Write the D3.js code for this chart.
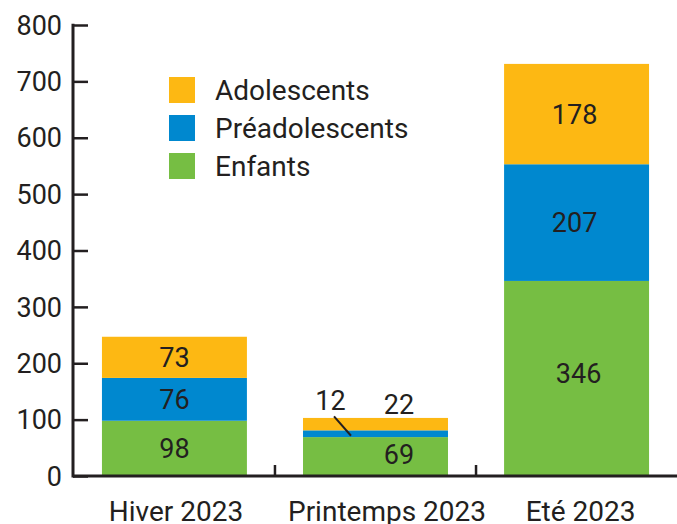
<!DOCTYPE html>
<html>
<head>
<meta charset="utf-8">
<script src="https://cdnjs.cloudflare.com/ajax/libs/d3/7.8.5/d3.min.js"></script>
<style>
  body { margin: 0; background: #fff; }
  text { font-family: Roboto, 'Noto Sans', sans-serif; fill: #231f20; }
</style>
</head>
<body>
<div id="chart"></div>
<script>
const seasons = ['Hiver 2023', 'Printemps 2023', 'Eté 2023'];
const groups = ['Enfants', 'Préadolescents', 'Adolescents'];
const enfants = [98, 69, 346];
const preados = [76, 12, 207];
const ados = [73, 22, 178];
const yTicks = [0, 100, 200, 300, 400, 500, 600, 700, 800];
const colors = ['#76be43', '#0088cf', '#fdb813'];

const W = 677, H = 524;
const svg = d3.select('#chart').append('svg').attr('width', W).attr('height', H);

const x = d3.scaleBand().domain(seasons).range([73, 678]).paddingInner(0.279).paddingOuter(0.144);
const y = d3.scaleLinear().domain([0, 800]).range([476, 25]);

const rows = seasons.map((s, i) => ({ season: s, Enfants: enfants[i], 'Préadolescents': preados[i], Adolescents: ados[i] }));
const stack = d3.stack().keys(groups)(rows);

// bars
stack.forEach((layer, k) => {
  svg.append('g').selectAll('rect')
    .data(layer)
    .join('rect')
    .attr('x', d => x(d.data.season))
    .attr('width', x.bandwidth())
    .attr('y', d => y(d[1]))
    .attr('height', d => y(d[0]) - y(d[1]))
    .attr('fill', colors[k]);
});

// value labels
stack.forEach((layer, k) => {
  layer.forEach((d, i) => {
    const v = d[1] - d[0];
    let cx = x(d.data.season) + x.bandwidth() / 2;
    let cy = y((d[0] + d[1]) / 2);
    if (d.data.season === 'Printemps 2023') {
      cx += 23.5;
      if (k === 0) cy -= 2;
      if (k === 1) { cx = x(d.data.season) + 27.5; cy = y(d[1]) - 30; }
      if (k === 2) { cy = y(d[1]) - 13.5; }
    }
    if (d.data.season === 'Eté 2023') {
      if (k === 0) { cx += 2; cy -= 5; }
      else cx -= 2;
    }
    svg.append('text')
      .attr('x', cx).attr('y', cy)
      .attr('dy', '0.36em')
      .attr('text-anchor', 'middle')
      .style('font-size', '27px')
      .text(v);
    if (d.data.season === 'Printemps 2023' && k === 1) {
      svg.append('line')
        .attr('x1', x(d.data.season) + 31).attr('y1', y(d[1]) - 14)
        .attr('x2', x(d.data.season) + 48).attr('y2', y((d[0] + d[1]) / 2) + 2)
        .attr('stroke', '#231f20').attr('stroke-width', 2);
    }
  });
});

// y axis
const yAxis = svg.append('g').attr('transform', 'translate(73,0)')
  .call(d3.axisRight(y).tickValues(yTicks).tickSize(15).tickFormat(''));
yAxis.select('.domain').remove();
yAxis.selectAll('.tick line').attr('stroke', '#231f20').attr('stroke-width', 2.5);
svg.append('line').attr('x1', 73).attr('x2', 73).attr('y1', y(800) - 1.2).attr('y2', y(0) + 1.5)
  .attr('stroke', '#231f20').attr('stroke-width', 3);
svg.selectAll('text.ytick').data(yTicks).join('text')
  .attr('class', 'ytick')
  .attr('x', 62).attr('y', d => y(d)).attr('dy', '0.36em')
  .attr('text-anchor', 'end')
  .style('font-size', '27px')
  .text(d => d);

// x axis
svg.append('line').attr('x1', 73).attr('x2', W).attr('y1', y(0)).attr('y2', y(0))
  .attr('stroke', '#231f20').attr('stroke-width', 3);
const bounds = seasons.slice(1).map(s => x(s) - x.step() * x.paddingInner() / 2);
svg.selectAll('line.xtick').data(bounds).join('line')
  .attr('class', 'xtick')
  .attr('x1', d => d).attr('x2', d => d)
  .attr('y1', y(0)).attr('y2', y(0) - 11)
  .attr('stroke', '#231f20').attr('stroke-width', 2.5);
// category labels are not centred exactly under their bars in the original
const labelNudge = { 'Hiver 2023': 1.5, 'Printemps 2023': 11.5, 'Eté 2023': 4 };
svg.selectAll('text.xlab').data(seasons).join('text')
  .attr('class', 'xlab')
  .attr('x', d => x(d) + x.bandwidth() / 2 + labelNudge[d]).attr('y', 521)
  .attr('text-anchor', 'middle')
  .style('font-size', '28px')
  .text(d => d);

// legend
const legendItems = groups.slice().reverse();
const legendColors = colors.slice().reverse();
const lg = svg.append('g').attr('transform', 'translate(169,77)');
legendItems.forEach((g, i) => {
  lg.append('rect').attr('x', 0).attr('y', i * 38).attr('width', 26).attr('height', 26)
    .attr('fill', legendColors[i]);
  lg.append('text').attr('x', 46).attr('y', i * 38 + 13).attr('dy', '0.36em')
    .style('font-size', '28px').text(g);
});
</script>
</body>
</html>
